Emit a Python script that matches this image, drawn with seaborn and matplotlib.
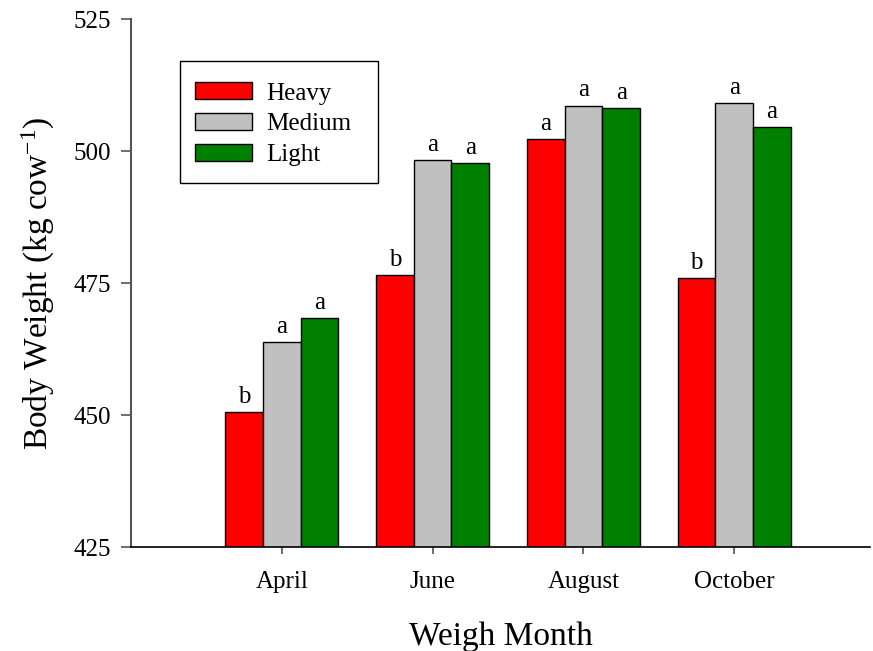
import matplotlib
matplotlib.use("Agg")
import matplotlib.pyplot as plt
from matplotlib.patches import Rectangle
import seaborn as sns
import pandas as pd

# Body weight by weigh month and frame-size group
months = ["April", "June", "August", "October"]
groups = ["Heavy", "Medium", "Light"]
heavy = [450.6, 476.5, 502.3, 476.0]
medium = [463.8, 498.3, 508.6, 509.0]
light = [468.3, 497.7, 508.1, 504.5]
letters_heavy = ["b", "b", "a", "b"]
letters_medium = ["a", "a", "a", "a"]
letters_light = ["a", "a", "a", "a"]
colors = ["#ff0000", "#c0c0c0", "#008000"]

sns.set_style("ticks")
plt.rcParams["font.family"] = ["Liberation Serif", "DejaVu Serif"]
plt.rcParams["mathtext.fontset"] = "custom"
plt.rcParams["mathtext.rm"] = "Liberation Serif"
plt.rcParams["mathtext.it"] = "Liberation Serif:italic"
plt.rcParams["text.color"] = "black"
plt.rcParams["axes.labelcolor"] = "black"
plt.rcParams["xtick.labelcolor"] = "black"
plt.rcParams["ytick.labelcolor"] = "black"

df = pd.DataFrame({
    "month": months * 3,
    "group": [g for g in groups for _ in months],
    "weight": heavy + medium + light,
})

fig = plt.figure(figsize=(8.73, 6.51), dpi=100)
ax = fig.add_axes([131 / 873, 1 - 547 / 651, (870 - 131) / 873, (547 - 19) / 651])

sns.barplot(data=df, x="month", y="weight", hue="group", order=months,
            hue_order=groups, palette=colors, width=0.75, saturation=1,
            edgecolor="black", linewidth=1.0, errorbar=None, ax=ax)

for cont, labs in zip(ax.containers, [letters_heavy, letters_medium, letters_light]):
    ax.bar_label(cont, labels=labs, padding=3, fontsize=18, color="black")

ax.set_ylim(425, 525)
ax.set_yticks([425, 450, 475, 500, 525])
ax.set_xlim(-1.0, 3.9)

ax.set_xlabel("Weigh Month", fontsize=24, labelpad=21)
ax.set_ylabel("Body Weight (kg cow$^{\\mathregular{-1}}$)", fontsize=24, labelpad=12)
ax.tick_params(axis="y", labelsize=18, length=7.5, width=1.2, color="#555555", pad=7, direction="out")
ax.tick_params(axis="x", labelsize=18, length=5, width=1.2, color="#555555", pad=12, direction="out")

sns.despine(ax=ax)
ax.spines["left"].set_color("#555555")
ax.spines["left"].set_linewidth(1.5)
ax.spines["bottom"].set_color("black")
ax.spines["bottom"].set_linewidth(1.2)

# Legend entries without their own frame; a plain box is drawn around them
handles, labels = ax.get_legend_handles_labels()
leg = ax.legend(handles, labels, loc="upper left",
                bbox_to_anchor=(180 / 873, 1 - 67.5 / 651), bbox_transform=fig.transFigure,
                fontsize=18, frameon=False, handlelength=2.28, handleheight=0.64,
                handletextpad=0.56, labelspacing=0.35, borderpad=0.6,
                borderaxespad=0)
for h in leg.legend_handles:
    h.set_edgecolor("black")
    h.set_linewidth(1.0)

fig.add_artist(Rectangle((180 / 873, 1 - 183 / 651), 198 / 873, 122 / 651,
                         transform=fig.transFigure, fill=False,
                         edgecolor="black", linewidth=1.0, zorder=5))

fig.savefig("out.png", dpi=100)
